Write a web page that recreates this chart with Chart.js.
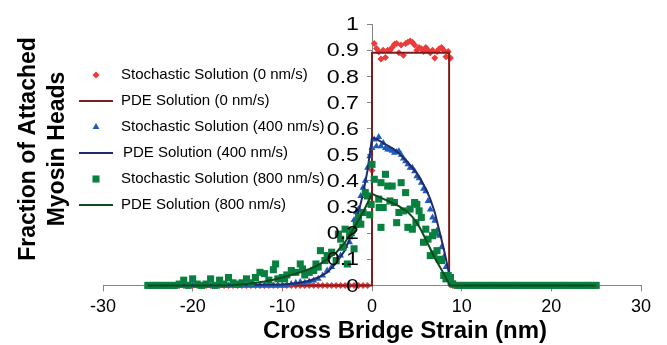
<!DOCTYPE html>
<html>
<head>
<meta charset="utf-8">
<script src="https://cdn.jsdelivr.net/npm/chart.js@4"></script>
<style>
  body { margin: 0; background: #fff; }
</style>
</head>
<body>
<canvas id="strain_chart" width="667" height="345"></canvas>
<script>
// sampling grid of the flat tails (nm)
var tailLeftX = [-25, -24.5, -24, -23.5, -23, -22.5, -22, -21.5, -21, -20.5, -20, -19.5, -19, -18.5, -18, -17.5,
                 -17, -16.5, -16, -15.5, -15, -14.5, -14, -13.5, -13, -12.5, -12, -11.5, -11, -10.5, -10, -9.5]
var tailRightX = [9.5, 10, 10.5, 11, 11.5, 12, 12.5, 13, 13.5, 14, 14.5, 15, 15.5, 16, 16.5, 17,
                  17.5, 18, 18.5, 19, 19.5, 20, 20.5, 21, 21.5, 22, 22.5, 23, 23.5, 24, 24.5, 25]
var tailZeros = [0, 0, 0, 0, 0, 0, 0, 0, 0, 0, 0, 0, 0, 0, 0, 0,
                 0, 0, 0, 0, 0, 0, 0, 0, 0, 0, 0, 0, 0, 0, 0, 0]

// stochastic 0 nm/s
var redCoreX = [-9, -8.5, -8, -7.5, -7, -6.5, -6, -5.5, -5, -4.5, -4, -3.5, -3, -2.5, -2, -1.5, -1, -0.5,
                0, 0.25, 0.5, 0.75, 1, 1.25, 1.5, 1.75, 2, 2.25, 2.5, 2.75, 3, 3.25, 3.5, 3.75, 4, 4.25,
                4.5, 4.75, 5, 5.25, 5.5, 5.75, 6, 6.25, 6.5, 6.75, 7, 7.25, 7.5, 7.75, 8, 8.25, 8.5, 8.75, 9]
var redCoreY = [0, 0, 0, 0, 0, 0, 0, 0, 0, 0, 0, 0, 0, 0, 0, 0, 0, 0,
                0.44, 0.925, 0.906, 0.894, 0.866, 0.9, 0.872, 0.9, 0.9, 0.91, 0.923, 0.925, 0.89, 0.92, 0.88, 0.925, 0.93, 0.935,
                0.93, 0.92, 0.9, 0.91, 0.905, 0.895, 0.91, 0.9, 0.89, 0.9, 0.87, 0.895, 0.905, 0.91, 0.9, 0.875, 0.895, 0.87, 0]

// PDE 0 nm/s
var redPdeX = [-25, 0, 0, 8.6, 8.6, 25]
var redPdeY = [0, 0, 0.89, 0.89, 0, 0]

// stochastic 400 nm/s
var blueCoreX = [-9, -8.5, -8, -7.5, -7, -6.5, -6, -5.5, -5, -4.5, -4, -3.5, -3, -2.5, -2.25, -2, -1.75, -1.5, -1.25,
                 -1, -0.75, -0.5, -0.25, 0, 0.25, 0.5, 0.75, 1, 1.25, 1.5, 1.75, 2, 2.25, 2.5, 2.75, 3, 3.25, 3.5,
                 3.75, 4, 4.25, 4.5, 4.75, 5, 5.25, 5.5, 5.75, 6, 6.25, 6.5, 6.75, 7, 7.25, 7.5, 7.75, 8, 8.25, 8.5, 8.75, 9]
var blueCoreY = [0.005, 0.01, 0.013, 0.01, 0.015, 0.019, 0.025, 0.038, 0.057, 0.07, 0.089, 0.114, 0.152, 0.165, 0.196, 0.25, 0.28, 0.292, 0.342,
                 0.374, 0.4, 0.45, 0.494, 0.526, 0.558, 0.532, 0.568, 0.532, 0.545, 0.526, 0.52, 0.52, 0.515, 0.507, 0.51, 0.513, 0.5, 0.485,
                 0.475, 0.463, 0.45, 0.45, 0.437, 0.418, 0.41, 0.393, 0.37, 0.36, 0.323, 0.29, 0.26, 0.247, 0.21, 0.19, 0.146, 0.108, 0.07, 0.038, 0.01, 0]

// PDE 400 nm/s
var bluePdeX = [-25, -10, -9, -8, -7, -6, -5, -4, -3, -2, -1.5, -1, -0.5, 0, 0.5, 1, 1.5, 2, 2.5, 3, 3.5,
                4, 4.5, 5, 5.5, 6, 6.5, 7, 7.5, 8, 8.5, 8.8, 25]
var bluePdeY = [0, 0.003, 0.006, 0.01, 0.018, 0.03, 0.05, 0.085, 0.135, 0.22, 0.28, 0.35, 0.44, 0.565, 0.56, 0.55, 0.54, 0.53, 0.52, 0.505, 0.488,
                0.47, 0.45, 0.43, 0.4, 0.37, 0.33, 0.28, 0.21, 0.14, 0.06, 0, 0]

// stochastic 800 nm/s
var greenLeftY = [0, 0, 0, 0, 0, 0, 0, 0.005, 0.02, 0, 0.025, 0.005, 0, 0.005, 0.025, 0,
                  0.02, 0.005, 0.03, 0.01, 0.005, 0.01, 0.025, 0.01, 0.03, 0.05, 0.045, 0.02, 0.06, 0.025, 0.03, 0.04]
var greenCoreX = [-10.75, -9.75, -9, -8.5, -8, -7.75, -7.5, -7, -6.5, -6.25, -6, -5.75, -5.25, -5, -4.5, -4, -3.75, -3.5,
                  -3.25, -3, -2.75, -2.5, -2.25, -2, -1.75, -1.5, -1.25, -1, -0.75, -0.5, -0.25, -0.1, 0, 0.25, 0.75, 0.8,
                  1, 1, 1.25, 1.5, 1.75, 2, 2.25, 2.5, 2.75, 3, 3.25, 3.5, 3.75, 4, 4.25, 4.5, 4.75, 4.9,
                  5, 5.25, 5.5, 5.75, 6, 6.25, 6.5, 6.75, 6.9, 7, 7.25, 7.5, 7.75, 8, 8.25, 8.5, 8.75, 9]
var greenCoreY = [0.082, 0.025, 0.057, 0.05, 0.082, 0.063, 0.04, 0.05, 0.057, 0.082, 0.07, 0.133, 0.095, 0.114, 0.127, 0.095, 0.196, 0.177,
                  0.146, 0.215, 0.082, 0.19, 0.209, 0.14, 0.234, 0.26, 0.234, 0.279, 0.355, 0.342, 0.27, 0.31, 0.463, 0.406, 0.33, 0.298,
                  0.393, 0.222, 0.298, 0.425, 0.38, 0.323, 0.38, 0.317, 0.24, 0.279, 0.393, 0.285, 0.355, 0.222, 0.292, 0.215, 0.317, 0.24,
                  0.31, 0.285, 0.26, 0.165, 0.215, 0.177, 0.114, 0.19, 0.12, 0.203, 0.133, 0.1, 0.095, 0.038, 0.025, 0.038, 0.03, 0.006]

// PDE 800 nm/s
var greenPdeX = [-25, -16, -14, -12, -11, -10, -9, -8, -7, -6, -5, -4, -3, -2, -1, -0.5, 0, 1, 2, 3, 4,
                 4.5, 5, 5.5, 6, 6.5, 7, 7.5, 8, 8.5, 8.7, 25]
var greenPdeY = [0, 0, 0.005, 0.015, 0.022, 0.03, 0.04, 0.05, 0.062, 0.078, 0.1, 0.125, 0.165, 0.22, 0.28, 0.315, 0.35, 0.335, 0.32, 0.303, 0.28,
                 0.262, 0.24, 0.21, 0.175, 0.14, 0.105, 0.075, 0.045, 0.012, 0, 0]

var labels = ['Stochastic Solution (0 nm/s)', 'PDE Solution (0 nm/s)',
              'Stochastic Solution (400 nm/s)', 'PDE Solution (400 nm/s)',
              'Stochastic Solution (800 nm/s)', 'PDE Solution (800 nm/s)']
var xTitle = 'Cross Bridge Strain (nm)'
var yTitle = ['Fraction of Attached', 'Myosin Heads']

var fontFam = '"Liberation Sans", Arial, sans-serif'

function pts(xs, ys) {
    var out = []
    for (var i = 0; i < xs.length; ++i) out.push({x: xs[i], y: ys[i]})
    return out
}

function stochastic(label, xs, ys, color, style, radius, order) {
    return {
        label: label, data: pts(xs, ys), showLine: false,
        pointStyle: style, pointRadius: radius, pointBorderWidth: 0,
        backgroundColor: color, borderColor: color, order: order, clip: false
    }
}

function pde(label, xs, ys, color, order) {
    return {
        label: label, data: pts(xs, ys), showLine: true, tension: 0,
        pointRadius: 0, borderWidth: 2, borderColor: color, backgroundColor: color,
        order: order, clip: false
    }
}

// legend, axis titles and the (wide) y labels are drawn by hand,
// the excel layout doesn't fit chart.js' boxes
var extras = {
    id: 'extras',
    afterDraw: function(chart) {
        var ctx = chart.ctx
        ctx.save()
        ctx.textBaseline = 'middle'
        ctx.textAlign = 'left'
        ctx.font = '15px ' + fontFam
        chart.data.datasets.forEach(function(ds, i) {
            var y = 75 + i * 26
            if (ds.showLine) {
                ctx.strokeStyle = ds.borderColor
                ctx.lineWidth = ds.borderWidth
                ctx.beginPath()
                ctx.moveTo(79, y)
                ctx.lineTo(113, y)
                ctx.stroke()
            } else {
                ctx.fillStyle = ds.backgroundColor
                Chart.helpers.drawPoint(ctx, {pointStyle: ds.pointStyle, radius: ds.pointRadius, borderWidth: 0, rotation: 0}, 96, y)
            }
            ctx.fillStyle = '#000'
            ctx.fillText(ds.label, i == 3 ? 123 : 121, y)
        })

        // y tick labels, stretched sideways like the original
        var ys = chart.scales.y
        var x0 = chart.scales.x.getPixelForValue(0) - 13
        ctx.font = '19px ' + fontFam
        ctx.textAlign = 'right'
        ys.ticks.forEach(function(t) {
            ctx.save()
            ctx.translate(x0, ys.getPixelForValue(t.value))
            ctx.scale(1.22, 1)
            ctx.fillText(String(Math.round(t.value * 10) / 10), 0, 1)
            ctx.restore()
        })

        ctx.font = 'bold 24px ' + fontFam
        ctx.textAlign = 'center'
        ctx.textBaseline = 'alphabetic'
        ctx.fillText(xTitle, 405, 338)

        ctx.font = 'bold 23px ' + fontFam
        ctx.translate(0, 149)
        ctx.rotate(-Math.PI / 2)
        ctx.fillText(yTitle[0], 0, 35)
        ctx.fillText(yTitle[1], 0, 64)
        ctx.restore()
    }
}

var ctx = document.getElementById('strain_chart')
var chartStrain = new Chart(ctx, {
    type: 'scatter',
    data: {
        datasets: [
            stochastic(labels[0], tailLeftX.concat(redCoreX, tailRightX), tailZeros.concat(redCoreY, tailZeros), '#ee3a3a', 'rectRot', 3.5, 6),
            pde(labels[1], redPdeX, redPdeY, '#7f1d1d', 5),
            stochastic(labels[2], tailLeftX.concat(blueCoreX, tailRightX), tailZeros.concat(blueCoreY, tailZeros), '#1f5cb8', 'triangle', 4, 4),
            pde(labels[3], bluePdeX, bluePdeY, '#1f2a6b', 3),
            stochastic(labels[4], tailLeftX.concat(greenCoreX, tailRightX), greenLeftY.concat(greenCoreY, tailZeros), '#08803f', 'rect', 5, 2),
            pde(labels[5], greenPdeX, greenPdeY, '#0d4a1e', 1)
        ]
    },
    plugins: [extras],
    options: {
        responsive: false,
        animation: false,
        layout: {
            padding: {left: 103, right: 26, top: 24, bottom: 22}
        },
        plugins: {
            legend: {display: false},
            tooltip: {enabled: false}
        },
        scales: {
            x: {
                type: 'linear',
                min: -30,
                max: 30,
                position: 'bottom',
                border: {color: '#868686', width: 1},
                grid: {drawOnChartArea: false, tickLength: 6, color: '#868686'},
                ticks: {stepSize: 10, color: '#000', padding: 5, maxRotation: 0, font: {family: fontFam, size: 18}}
            },
            y: {
                type: 'linear',
                min: 0,
                max: 1,
                position: {x: 0},
                z: 1,
                border: {color: '#868686', width: 1},
                grid: {drawOnChartArea: false, tickLength: 5, color: '#868686'},
                ticks: {stepSize: 0.1, autoSkip: false, display: false}
            }
        }
    }
})
</script>
</body>
</html>
